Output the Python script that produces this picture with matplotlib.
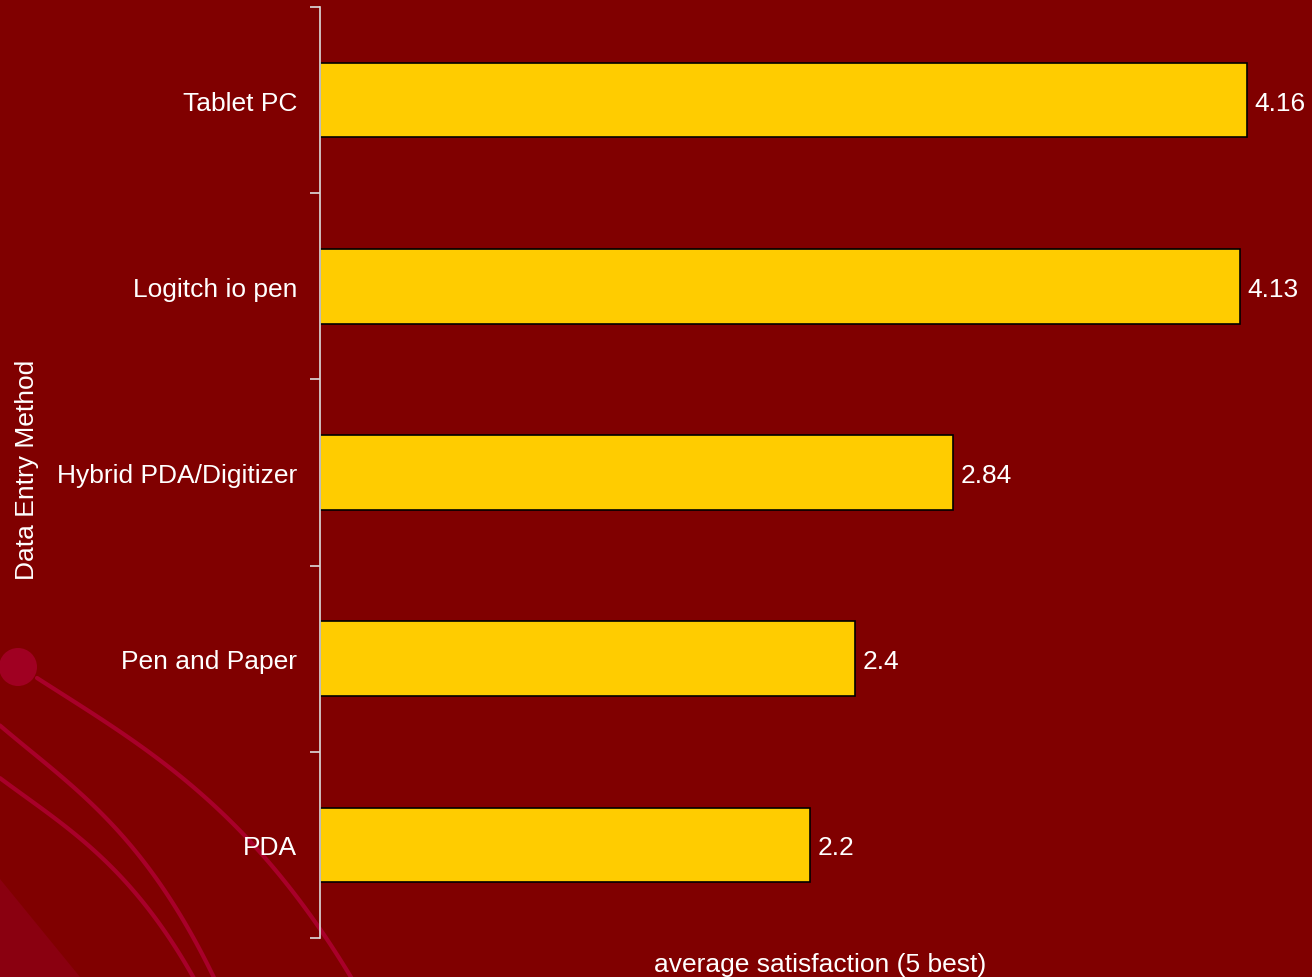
import numpy as np
import matplotlib.pyplot as plt
from matplotlib.patches import Circle

methods = ['PDA', 'Pen and Paper', 'Hybrid PDA/Digitizer', 'Logitch io pen', 'Tablet PC']
satisfaction = [2.2, 2.4, 2.84, 4.13, 4.16]

BG = '#800000'
BAR = '#FFCC00'
DECO = '#A8002A'

plt.rcParams['font.family'] = ['Liberation Sans', 'DejaVu Sans']

fig = plt.figure(figsize=(13.12, 9.78), dpi=100, facecolor=BG)

# background decoration (lower-left swooshes)
deco = fig.add_axes([0, 0, 1, 1], zorder=0)
deco.set_xlim(0, 1312)
deco.set_ylim(978, 0)
deco.axis('off')
deco.fill([0, 0, 80], [880, 978, 978], color='#8A0010', lw=0)
curves = [
    [(37, 680), (67, 697), (133, 740), (200, 797), (260, 853), (310, 913), (350, 978)],
    [(0, 727), (67, 780), (127, 847), (173, 900), (213, 978)],
    [(0, 780), (27, 797), (87, 847), (147, 907), (193, 978)],
]
for c in curves:
    xs, ys = np.array(c).T
    coef = np.polyfit(xs, ys, 3)
    xx = np.linspace(xs[0], xs[-1] + 5, 100)
    deco.plot(xx, np.polyval(coef, xx), color=DECO, lw=3, solid_capstyle='round')
deco.add_patch(Circle((18, 668), 19, color='#A00022', lw=0))

ax = fig.add_axes([320 / 1312, 39 / 978, 1000 / 1312, 931 / 978], zorder=1)
ax.set_facecolor('none')

ypos = range(len(methods))
ax.barh(ypos, satisfaction, height=0.4, color=BAR, edgecolor='black', linewidth=1.2)
for y, v in zip(ypos, satisfaction):
    ax.text(v + 0.035, y, f'{v:g}', va='center_baseline', ha='left', color='white', fontsize=19)

ax.set_xlim(0, 4.49)
ax.set_ylim(-0.5, len(methods) - 0.5)
ax.set_yticks(list(ypos))
ax.set_yticklabels(methods, color='white', fontsize=19)
ax.set_yticks([i - 0.5 for i in range(len(methods) + 1)], minor=True)
ax.tick_params(axis='y', which='major', length=0, pad=16.5)
ax.tick_params(axis='y', which='minor', length=7, color='#DDDDDD', width=1.2)
ax.set_xticks([])

for s in ['top', 'right', 'bottom']:
    ax.spines[s].set_visible(False)
ax.spines['left'].set_color('#DDDDDD')
ax.spines['left'].set_linewidth(1.2)

ax.set_xlabel('average satisfaction (5 best)', color='white', fontsize=19, labelpad=10)
fig.text(27 / 1312, 1 - 470 / 978, 'Data Entry Method', color='white', fontsize=19,
         rotation=90, ha='center', va='center')

fig.savefig('out.png', dpi=100, facecolor=BG)
